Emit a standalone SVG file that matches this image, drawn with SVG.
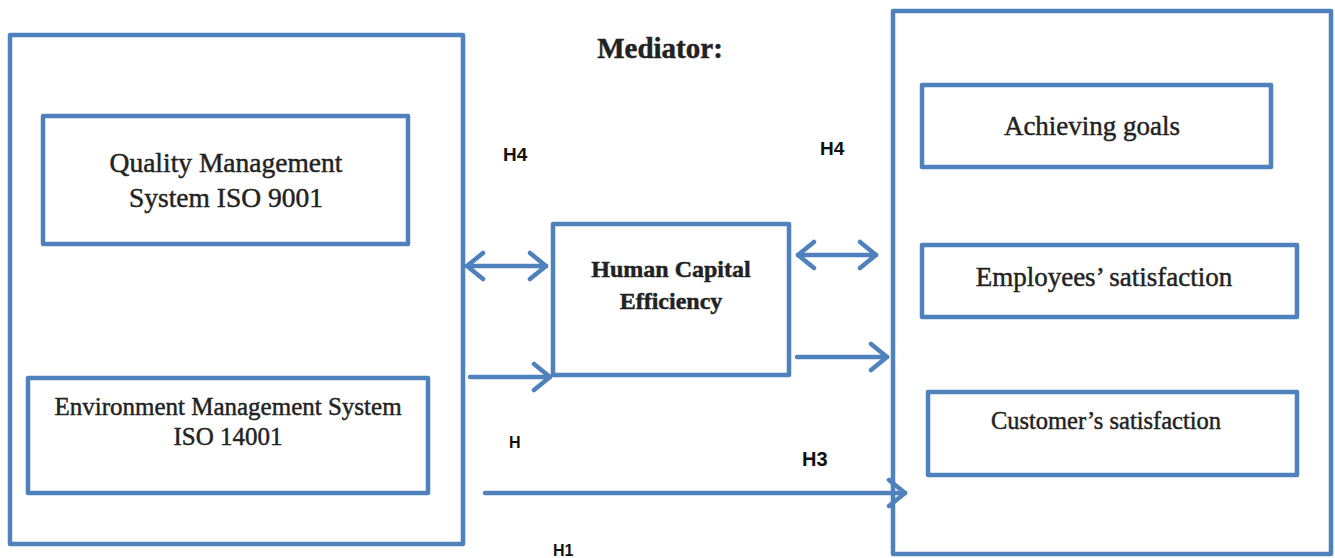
<svg xmlns="http://www.w3.org/2000/svg" width="1335" height="558" viewBox="0 0 1335 558">
  <style>
    .box { fill: none; stroke: #4F81BD; stroke-width: 4.5; stroke-linejoin: round; }
    .link { fill: none; stroke: #4F81BD; stroke-width: 4.5; stroke-linecap: round; }
    .lbl { font-family: "Liberation Serif", "DejaVu Serif", serif; fill: #222; stroke: #222; stroke-width: 0.45; text-anchor: middle; }
    .hyp { font-family: "Liberation Sans", Arial, sans-serif; font-weight: bold; fill: #111; }
  </style>
  <defs>
    <marker id="chev" markerUnits="userSpaceOnUse" viewBox="-20 -16 24 32" refX="0" refY="0" markerWidth="24" markerHeight="32" orient="auto-start-reverse">
      <path d="M -16,-13 L 0,0 L -16,13" fill="none" stroke="#4F81BD" stroke-width="4.5" stroke-linecap="round" stroke-linejoin="round"/>
    </marker>
  </defs>
  <rect width="1335" height="558" fill="#fff"/>

  <!-- independent variables -->
  <g id="independent">
    <rect class="box" x="10" y="35" width="453" height="509"/>
  </g>
  <g id="qms">
    <rect class="box" x="43" y="116" width="365" height="128"/>
    <text class="lbl" x="226" y="172" font-size="27.5">Quality Management</text>
    <text class="lbl" x="226" y="207" font-size="27.5">System ISO 9001</text>
  </g>
  <g id="ems">
    <rect class="box" x="28" y="378" width="400" height="115"/>
    <text class="lbl" x="228" y="415" font-size="25">Environment Management System</text>
    <text class="lbl" x="228" y="445" font-size="25">ISO 14001</text>
  </g>

  <!-- mediator -->
  <g id="mediator-title">
    <text class="lbl" x="660" y="58" font-size="29" font-weight="bold">Mediator:</text>
  </g>
  <g id="hce">
    <rect class="box" x="553" y="224" width="236" height="151"/>
    <text class="lbl" x="671" y="277" font-size="24" font-weight="bold">Human Capital</text>
    <text class="lbl" x="671" y="309" font-size="24" font-weight="bold">Efficiency</text>
  </g>

  <!-- dependent variables -->
  <g id="dependent">
    <rect class="box" x="893" y="11" width="438" height="543"/>
  </g>
  <g id="goals">
    <rect class="box" x="922" y="85" width="349" height="82"/>
    <text class="lbl" x="1092" y="135" font-size="27">Achieving goals</text>
  </g>
  <g id="employees">
    <rect class="box" x="922" y="245" width="375" height="72"/>
    <text class="lbl" x="1104" y="286" font-size="27">Employees’ satisfaction</text>
  </g>
  <g id="customers">
    <rect class="box" x="928" y="392" width="369" height="83"/>
    <text class="lbl" x="1106" y="429" font-size="24.5">Customer’s satisfaction</text>
  </g>

  <!-- connectors -->
  <g id="connectors">
    <line class="link" x1="467" y1="266" x2="546" y2="266" marker-start="url(#chev)" marker-end="url(#chev)"/>
    <line class="link" x1="798" y1="255" x2="876" y2="255" marker-start="url(#chev)" marker-end="url(#chev)"/>
    <line class="link" x1="470" y1="377" x2="550" y2="377" marker-end="url(#chev)"/>
    <line class="link" x1="797" y1="357" x2="887" y2="357" marker-end="url(#chev)"/>
    <line class="link" x1="485" y1="493" x2="905" y2="493" marker-end="url(#chev)"/>
  </g>

  <!-- hypothesis labels -->
  <g id="hypotheses">
    <text class="hyp" x="503" y="161" font-size="19">H4</text>
    <text class="hyp" x="820" y="155" font-size="19">H4</text>
    <text class="hyp" x="509" y="448" font-size="16">H</text>
    <text class="hyp" x="802" y="466" font-size="20">H3</text>
    <text class="hyp" x="553" y="556" font-size="16">H1</text>
  </g>
</svg>
